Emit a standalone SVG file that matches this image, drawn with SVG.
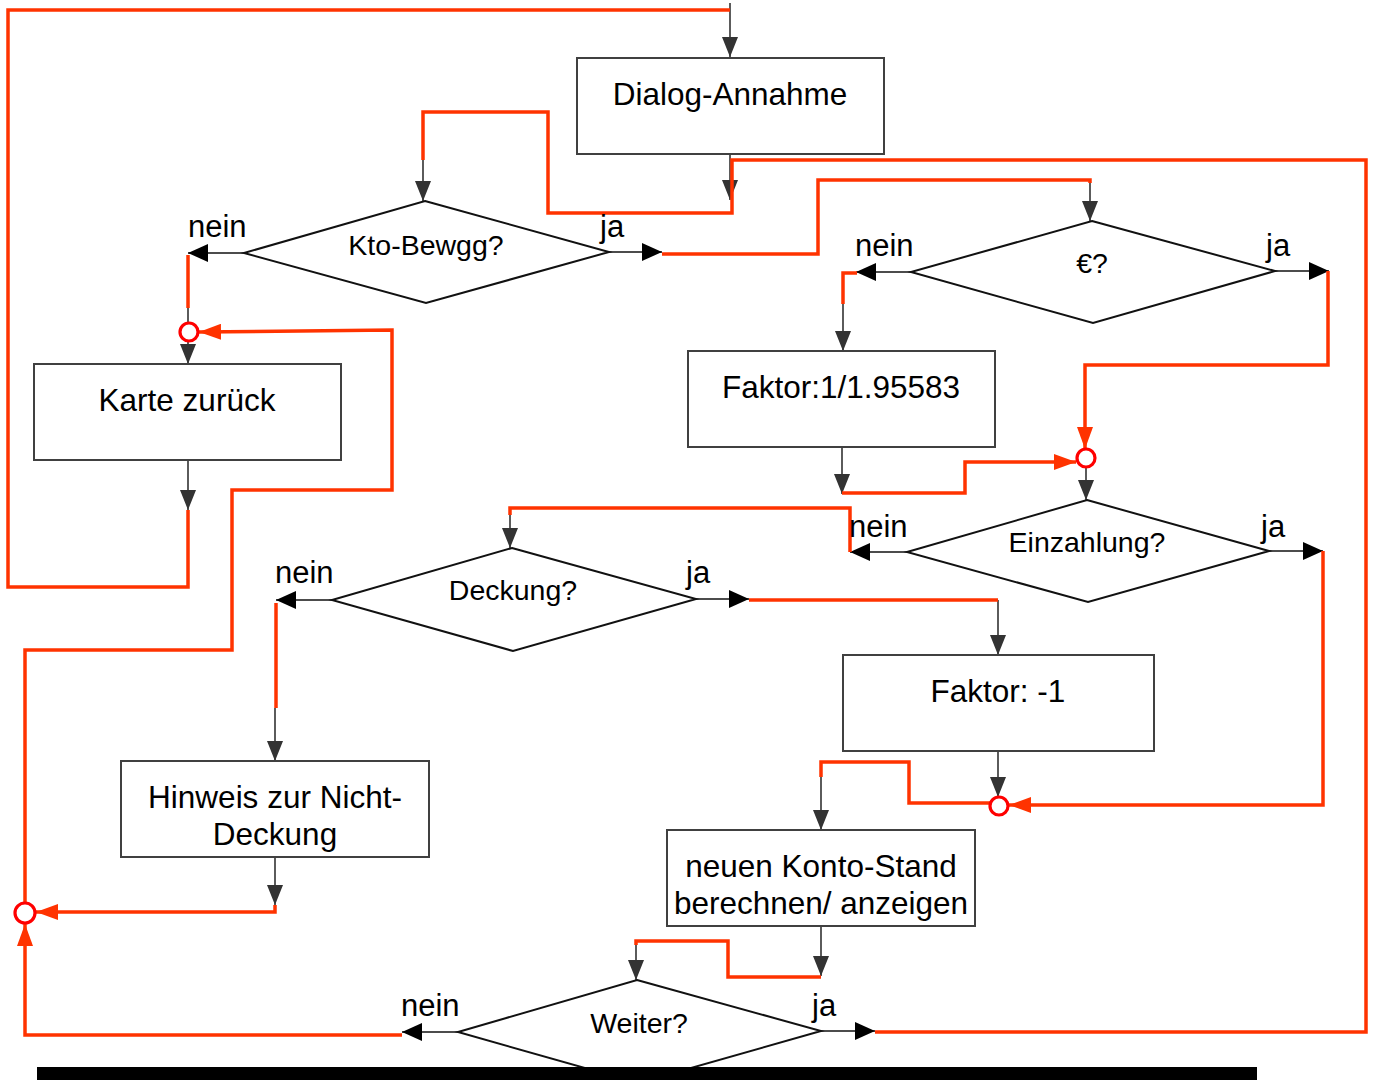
<svg xmlns="http://www.w3.org/2000/svg" width="1375" height="1080" viewBox="0 0 1375 1080">
<style>
.box{fill:#fff;stroke:#404040;stroke-width:2}
.dia{fill:#fff;stroke:#111;stroke-width:2}
.bt{font-family:"Liberation Sans",Arial,sans-serif;font-size:31.5px;fill:#000;text-anchor:middle}
.dt{font-family:"Liberation Sans",Arial,sans-serif;font-size:28.5px;fill:#000;text-anchor:middle}
.lb{font-family:"Liberation Sans",Arial,sans-serif;font-size:31px;fill:#000}
.g{fill:none;stroke:#333;stroke-width:1.6;marker-end:url(#ag)}
.gl{fill:none;stroke:#333;stroke-width:1.6}
.k{fill:none;stroke:#111;stroke-width:1.6;marker-end:url(#ab)}
.r{fill:none;stroke:#ff3300;stroke-width:3.5;stroke-linejoin:miter}
.ra{marker-end:url(#ar)}
.c{fill:#fff;stroke:#ff0000;stroke-width:3.2}
</style>
<defs>
<marker id="ag" markerUnits="userSpaceOnUse" markerWidth="20" markerHeight="16" refX="20" refY="8" orient="auto"><path d="M0,0 L20,8 L0,16 z" fill="#333"/></marker>
<marker id="ab" markerUnits="userSpaceOnUse" markerWidth="20" markerHeight="18" refX="20" refY="9" orient="auto"><path d="M0,0 L20,9 L0,18 z" fill="#000"/></marker>
<marker id="ar" markerUnits="userSpaceOnUse" markerWidth="22" markerHeight="16" refX="22" refY="8" orient="auto"><path d="M0,0 L22,8 L0,16 z" fill="#ff3300"/></marker>
</defs>

<g id="connectors">
<path class="g" d="M730,3 V57"/>
<path class="g" d="M730,154 V200"/>
<path class="g" d="M423,160 V201"/>
<path class="gl" d="M188,308 V323"/>
<path class="g" d="M188,341 V364"/>
<path class="g" d="M188,460 V510"/>
<path class="g" d="M1090,183 V221"/>
<path class="g" d="M843,304 V351"/>
<path class="g" d="M842,447 V494"/>
<path class="g" d="M1086,467 V500"/>
<path class="g" d="M510,515 V548"/>
<path class="g" d="M998,600 V655"/>
<path class="g" d="M275,708 V761"/>
<path class="g" d="M998,751 V797"/>
<path class="g" d="M821,777 V830"/>
<path class="g" d="M275,857 V905"/>
<path class="g" d="M821,926 V976"/>
<path class="g" d="M636,945 V980"/>

<path class="k" d="M244,253 H188"/>
<path class="k" d="M609,252 H662"/>
<path class="k" d="M911,272 H856"/>
<path class="k" d="M1275,271 H1329"/>
<path class="k" d="M907,552 H850"/>
<path class="k" d="M1269,551 H1323"/>
<path class="k" d="M332,600 H276"/>
<path class="k" d="M696,599 H749"/>
<path class="k" d="M458,1032 H402"/>
<path class="k" d="M821,1031 H875"/>

<path class="r" d="M730,10 H8 V587 H188 V510"/>
<path class="r" d="M875,1032 H1366 V160 H732 V213 H548 V112 H423 V160"/>
<path class="r" d="M662,254 H818 V180 H1090 V183"/>
<path class="r" d="M188,255 V308"/>
<path class="r ra" d="M25,903 V650 H232 V490 H392 V330 L199,332"/>
<path class="r" d="M857,273 H843 V304"/>
<path class="r ra" d="M1328,271 V365 H1085 V449"/>
<path class="r ra" d="M842,493 H965 V462 H1076"/>
<path class="r" d="M850,552 V508 H510 V515"/>
<path class="r ra" d="M1323,551 V805 H1009"/>
<path class="r" d="M749,600 H998"/>
<path class="r" d="M276,603 V708"/>
<path class="r" d="M990,803 H909 V762 H821 V777"/>
<path class="r ra" d="M275,905 V912 H36"/>
<path class="r ra" d="M402,1035 H25 V924"/>
<path class="r" d="M821,977 H728 V941 H636 V945"/>

<circle class="c" cx="189" cy="332" r="9"/>
<circle class="c" cx="1086" cy="458" r="9"/>
<circle class="c" cx="999" cy="806" r="9"/>
<circle class="c" cx="25" cy="913" r="10"/>
</g>

<g id="dialog"><rect class="box" x="577" y="58" width="307" height="96"/><text class="bt" x="730" y="105">Dialog-Annahme</text></g>
<g id="ktobewgg"><polygon class="dia" points="425,201 609,252 426,303 244,253"/><text class="dt" x="426" y="255">Kto-Bewgg?</text>
<text class="lb" x="188" y="237">nein</text><text class="lb" x="600" y="237">ja</text></g>
<g id="karte"><rect class="box" x="34" y="364" width="307" height="96"/><text class="bt" x="187" y="411">Karte zurück</text></g>
<g id="euro"><polygon class="dia" points="1092,221 1275,271 1093,323 911,272"/><text class="dt" x="1092" y="273">€?</text>
<text class="lb" x="855" y="256">nein</text><text class="lb" x="1266" y="256">ja</text></g>
<g id="faktor1"><rect class="box" x="688" y="351" width="307" height="96"/><text class="bt" x="841" y="398">Faktor:1/1.95583</text></g>
<g id="einzahlung"><polygon class="dia" points="1087,500 1269,551 1088,602 907,552"/><text class="dt" x="1087" y="552">Einzahlung?</text>
<text class="lb" x="849" y="537">nein</text><text class="lb" x="1261" y="537">ja</text></g>
<g id="deckung"><polygon class="dia" points="512,548 696,599 513,651 332,600"/><text class="dt" x="513" y="600">Deckung?</text>
<text class="lb" x="275" y="583">nein</text><text class="lb" x="686" y="583">ja</text></g>
<g id="faktor2"><rect class="box" x="843" y="655" width="311" height="96"/><text class="bt" x="998" y="702">Faktor: -1</text></g>
<g id="hinweis"><rect class="box" x="121" y="761" width="308" height="96"/><text class="bt" x="275" y="808">Hinweis zur Nicht-</text><text class="bt" x="275" y="845">Deckung</text></g>
<g id="kontostand"><rect class="box" x="667" y="830" width="308" height="96"/><text class="bt" x="821" y="877">neuen Konto-Stand</text><text class="bt" x="821" y="914">berechnen/ anzeigen</text></g>
<g id="weiter"><polygon class="dia" points="637,980 821,1031 638,1083 458,1032"/><text class="dt" x="639" y="1033">Weiter?</text>
<text class="lb" x="401" y="1016">nein</text><text class="lb" x="812" y="1016">ja</text></g>

<rect x="37" y="1067" width="1220" height="13" fill="#000"/>
</svg>
